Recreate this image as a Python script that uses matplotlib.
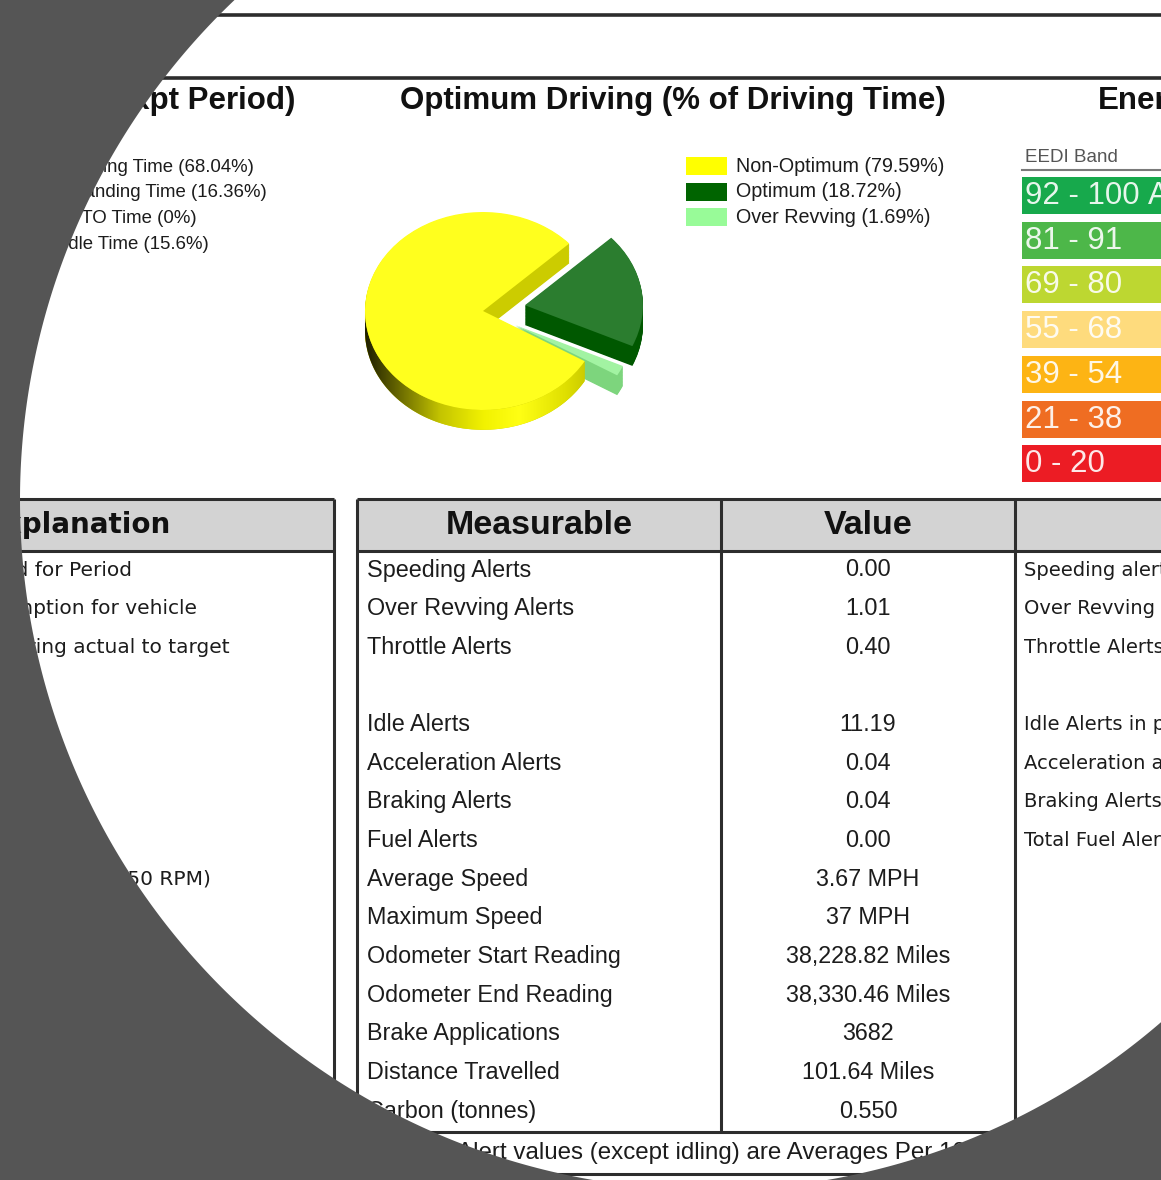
import numpy as np
import matplotlib
matplotlib.use("Agg")
import matplotlib.pyplot as plt
from matplotlib.patches import Rectangle, Polygon, PathPatch
from matplotlib.path import Path
from matplotlib.colors import LinearSegmentedColormap

# ------------------------------------------------------------------ data
time_labels = ["Driving Time", "Standing Time", "PTO Time", "Idle Time"]
time_values = [68.04, 16.36, 0, 15.6]

pie_labels = ["Non-Optimum", "Optimum", "Over Revving"]
pie_values = [79.59, 18.72, 1.69]
pie_legend_colors = ["#ffff00", "#006400", "#98fb98"]
pie_top_colors = ["#ffff1e", "#2b7d2f", "#a2f3a2"]
pie_side_colors = ["#cccc00", "#005800", "#7dd57d"]

eedi_bands = ["92 - 100", "81 - 91", "69 - 80", "55 - 68", "39 - 54", "21 - 38", "0 - 20"]
eedi_colors = ["#17a94c", "#4db749", "#bdd731", "#fedb7d", "#fdb414", "#ef6d22", "#ec1c24"]
eedi_top_grade = "A"

explanations = ["Fuel used for Period",
                "Fuel consumption for vehicle",
                "Score comparing actual to target",
                "Revving (above 2,250 RPM)"]
explanation_rows = [0, 1, 2, 8]

measurables = ["Speeding Alerts", "Over Revving Alerts", "Throttle Alerts", "",
               "Idle Alerts", "Acceleration Alerts", "Braking Alerts", "Fuel Alerts",
               "Average Speed", "Maximum Speed", "Odometer Start Reading",
               "Odometer End Reading", "Brake Applications", "Distance Travelled",
               "Carbon (tonnes)"]
values = ["0.00", "1.01", "0.40", "", "11.19", "0.04", "0.04", "0.00",
          "3.67 MPH", "37 MPH", "38,228.82 Miles", "38,330.46 Miles", "3682",
          "101.64 Miles", "0.550"]
descriptions = ["Speeding alerts", "Over Revving alerts",
                "Throttle Alerts", "", "Idle Alerts in period",
                "Acceleration alerts", "Braking Alerts",
                "Total Fuel Alerts", "", "", "", "", "", "", ""]
footnote = "Alert values (except idling) are Averages Per 100 Miles"

# ------------------------------------------------------------------ layout
W, H = 1161, 1180
FONT = "Liberation Sans"
VERD = "DejaVu Sans"
LINE = "#2d2d2d"
TXT = "#1c1c1c"

fig = plt.figure(figsize=(W / 100, H / 100), dpi=100)
fig.patch.set_facecolor("white")
ax = fig.add_axes([0, 0, 1, 1])
ax.set_xlim(0, W)
ax.set_ylim(H, 0)
ax.axis("off")


def hline(y, x0, x1, lw=2.2):
    ax.plot([x0, x1], [y, y], color=LINE, lw=lw, solid_capstyle="butt")


def vline(x, y0, y1, lw=2.2):
    ax.plot([x, x], [y0, y1], color=LINE, lw=lw, solid_capstyle="butt")


# top frame
hline(15, 0, W, lw=2.6)
hline(78, 0, W, lw=2.6)

# titles
ax.text(295, 101, "Use (Expt Period)", ha="right", va="center",
        fontsize=22.5, fontweight="bold", family=FONT, color="#111111")
ax.text(673, 101, "Optimum Driving (% of Driving Time)", ha="center", va="center",
        fontsize=22.5, fontweight="bold", family=FONT, color="#111111")
ax.text(1098, 101, "Ener", ha="left", va="center", clip_on=True,
        fontsize=22.5, fontweight="bold", family=FONT, color="#111111")

# left legend (time split) -- right ends follow the reference
time_right = [254, 267, 197, 209]
for i, (lab, v) in enumerate(zip(time_labels, time_values)):
    y = 167 + i * 25.7
    ax.text(time_right[i], y, f"{lab} ({v:g}%)", ha="right", va="center",
            fontsize=13.4, family=FONT, color=TXT)

# pie legend
for i, (lab, v) in enumerate(zip(pie_labels, pie_values)):
    y = 166 + i * 25.7
    ax.add_patch(Rectangle((686, y - 9), 41, 18, color=pie_legend_colors[i], lw=0))
    ax.text(736, y, f"{lab} ({v:.2f}%)", ha="left", va="center",
            fontsize=14.2, family=FONT, color=TXT)

# ------------------------------------------------------------------ 3D-ish pie
pcx, pcy, rx, ry, L = 483, 311, 118, 99, 1.7
pw, ph = 2 * L * rx, 2 * L * ry
pax = fig.add_axes([(pcx - pw / 2) / W, (H - (pcy + ph / 2)) / H, pw / W, ph / H])
pax.patch.set_alpha(0)

order = [0, 2, 1]  # around the circle: Non-Optimum, Over Revving, Optimum
vals = [pie_values[i] for i in order]
tops = [pie_top_colors[i] for i in order]
sides = [pie_side_colors[i] for i in order]
expl = [0, 0.31, 0.36]
thick = 0.2
nlay = 26
for k in range(nlay):
    dy = -thick + thick * k / nlay
    pax.pie(vals, colors=sides, explode=expl, startangle=43, counterclock=True,
            center=(0, dy), radius=1, wedgeprops=dict(linewidth=0, zorder=1))

wedges, _ = pax.pie(vals, colors=tops, explode=expl, startangle=43, counterclock=True,
                    center=(0, 0), radius=1, wedgeprops=dict(linewidth=0, zorder=3))

# gradient on the front rim of the big slice
yw = wedges[0]
a0, a1 = max(yw.theta1, 180), min(yw.theta2, 360)
th = np.radians(np.linspace(a0, a1, 120))
upper = np.column_stack([yw.center[0] + yw.r * np.cos(th), yw.center[1] + yw.r * np.sin(th)])
lower = upper[::-1] - np.array([0, thick])
band = Polygon(np.vstack([upper, lower]), closed=True, transform=pax.transData,
               facecolor="none", edgecolor="none")
pax.add_patch(band)
cmap = LinearSegmentedColormap.from_list("rim", [(0, "#1a1a00"), (0.15, "#6a6a00"),
                                                 (0.32, "#c4c400"), (0.5, "#f2f200"),
                                                 (0.65, "#ffff14"), (0.85, "#dede00"),
                                                 (1, "#b8b800")])
grad = np.linspace(0, 1, 256)[None, :]
im = pax.imshow(grad, extent=(-1.02, 1.02, -1.3, 0.2), cmap=cmap, aspect="auto",
                zorder=2, interpolation="bilinear")
im.set_clip_path(band)

pax.set_xlim(-L, L)
pax.set_ylim(-L, L)
pax.set_aspect("auto")
pax.axis("off")

# ------------------------------------------------------------------ EEDI bands
ax.text(1025, 157, "EEDI Band", ha="left", va="center", fontsize=13.5,
        family=FONT, color="#555555")
ax.plot([1022, W], [170, 170], color="#7a7a7a", lw=1.5)
for i, (lab, col) in enumerate(zip(eedi_bands, eedi_colors)):
    y0 = 177 + i * 44.7
    ax.add_patch(Rectangle((1022, y0), 160, 37, color=col, lw=0))
    ax.text(1025, y0 + 19, lab, ha="left", va="center", fontsize=22.5,
            family=FONT, color="white", alpha=0.9)
ax.text(1148, 177 + 19, eedi_top_grade, ha="left", va="center", fontsize=22.5,
        family=FONT, color="white", alpha=0.9, clip_on=True)

# ------------------------------------------------------------------ tables
top, hb = 499, 551
ax.add_patch(Rectangle((0, top), 334, hb - top, color="#d3d3d3", lw=0))
ax.add_patch(Rectangle((357, top), W - 357, hb - top, color="#d3d3d3", lw=0))

hline(top, 0, 334)
hline(hb, 0, 334)
vline(334, top, H)
hline(top, 357, W)
hline(hb, 357, W)
vline(357, top, 1175)
vline(721, top, 1132)
vline(1015, top, 1132)
hline(1132, 357, W)
hline(1174, 357, W)

ax.text(171, 525, "Explanation", ha="right", va="center", fontsize=20,
        fontweight="bold", family=VERD, color="#111111")
ax.text(539, 525, "Measurable", ha="center", va="center", fontsize=24.5,
        fontweight="bold", family=FONT, color="#111111")
ax.text(868, 525, "Value", ha="center", va="center", fontsize=24.5,
        fontweight="bold", family=FONT, color="#111111")

row0, step = 570, 38.65
for i, (m, v, d) in enumerate(zip(measurables, values, descriptions)):
    y = row0 + i * step
    ax.text(367, y, m, ha="left", va="center", fontsize=16.8, family=FONT, color=TXT)
    ax.text(868, y, v, ha="center", va="center", fontsize=16.8, family=FONT, color=TXT)
    ax.text(1024, y, d, ha="left", va="center", fontsize=14, family=VERD,
            color=TXT, clip_on=True)

expl_right = [132, 197, 230, 211]
for txt, r, xr in zip(explanations, explanation_rows, expl_right):
    ax.text(xr, row0 + r * step, txt, ha="right", va="center", fontsize=14.5,
            family=VERD, color=TXT, clip_on=True)

ax.text(457, 1153, footnote, ha="left", va="center", fontsize=17.4, family=FONT, color=TXT)

# ------------------------------------------------------------------ circular mask
max_ = fig.add_axes([0, 0, 1, 1], zorder=10)
max_.set_xlim(0, W)
max_.set_ylim(H, 0)
max_.axis("off")
max_.patch.set_alpha(0)
ccx, ccy, R = 710, 500, 690
t = np.linspace(0, 2 * np.pi, 721)[::-1]
circ = np.column_stack([ccx + R * np.cos(t), ccy + R * np.sin(t)])
rect = np.array([[-5, -5], [W + 5, -5], [W + 5, H + 5], [-5, H + 5], [-5, -5]])
verts = np.concatenate([rect, circ])
codes = ([Path.MOVETO] + [Path.LINETO] * 3 + [Path.CLOSEPOLY] +
         [Path.MOVETO] + [Path.LINETO] * (len(circ) - 2) + [Path.CLOSEPOLY])
max_.add_patch(PathPatch(Path(verts, codes), facecolor="#555555", edgecolor="none"))

fig.savefig("out.png", dpi=100, facecolor="white")
